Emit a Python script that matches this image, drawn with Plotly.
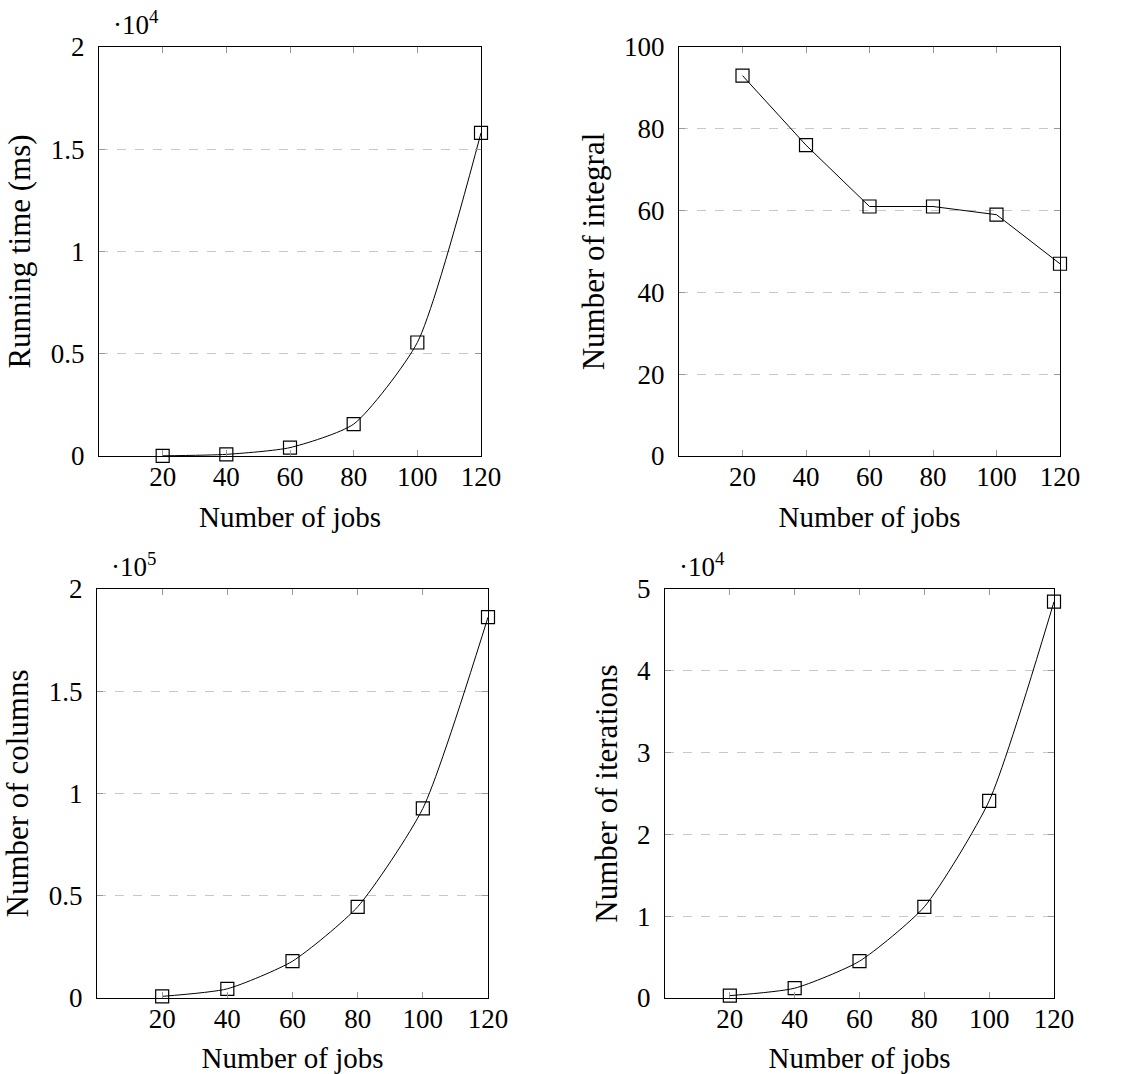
import plotly.graph_objects as go

jobs = [20, 40, 60, 80, 100, 120]
running_time = [10, 80, 410, 1560, 5550, 15800]
num_integral = [93, 76, 61, 61, 59, 47]
num_columns = [800, 4500, 18000, 44600, 92700, 186200]
num_iterations = [290, 1200, 4500, 11150, 24100, 48450]

x_ticks = [20, 40, 60, 80, 100, 120]
x_ticktext = ["20", "40", "60", "80", "100", "120"]

p1_tickvals = [0, 5000, 10000, 15000, 20000]
p1_ticktext = ["0", "0.5", "1", "1.5", "2"]
p2_tickvals = [0, 20, 40, 60, 80, 100]
p2_ticktext = ["0", "20", "40", "60", "80", "100"]
p3_tickvals = [0, 50000, 100000, 150000, 200000]
p3_ticktext = ["0", "0.5", "1", "1.5", "2"]
p4_tickvals = [0, 10000, 20000, 30000, 40000, 50000]
p4_ticktext = ["0", "1", "2", "3", "4", "5"]

W, H = 1123, 1074
FONT = "Liberation Serif"

panels = [
    dict(y=running_time, title="Running time (ms)", tv=p1_tickvals, tt=p1_ticktext,
         yr=[0, 20000], px=(99, 481), py=(47, 456), shape="spline", exp="·10<sup>4</sup>"),
    dict(y=num_integral, title="Number of integral", tv=p2_tickvals, tt=p2_ticktext,
         yr=[0, 100], px=(679, 1060), py=(47, 456), shape="linear", exp=None),
    dict(y=num_columns, title="Number of columns", tv=p3_tickvals, tt=p3_ticktext,
         yr=[0, 200000], px=(97, 488), py=(589, 998), shape="spline", exp="·10<sup>5</sup>"),
    dict(y=num_iterations, title="Number of iterations", tv=p4_tickvals, tt=p4_ticktext,
         yr=[0, 50000], px=(665, 1054), py=(589, 998), shape="spline", exp="·10<sup>4</sup>"),
]

fig = go.Figure()
layout = dict(
    width=W, height=H, margin=dict(l=0, r=0, t=0, b=0, autoexpand=False),
    paper_bgcolor="white", plot_bgcolor="white", showlegend=False,
    font=dict(family=FONT, size=27, color="black"),
)
annotations = []
for i, p in enumerate(panels, start=1):
    sfx = "" if i == 1 else str(i)
    fig.add_trace(go.Scatter(
        x=jobs, y=p["y"], mode="lines+markers",
        line=dict(color="black", width=1, shape=p["shape"], smoothing=0.6),
        marker=dict(symbol="square-open", size=13, color="black", line=dict(width=1.2)),
        xaxis="x" + sfx, yaxis="y" + sfx, cliponaxis=False,
    ))
    xd = [p["px"][0] / W, p["px"][1] / W]
    yd = [1 - p["py"][1] / H, 1 - p["py"][0] / H]
    layout["xaxis" + sfx] = dict(
        domain=xd, range=[0, 120], tickvals=x_ticks, ticktext=x_ticktext,
        ticks="inside", ticklen=6, tickcolor="#999", mirror="allticks",
        showline=True, linecolor="black", linewidth=1, showgrid=False, zeroline=False,
        anchor="y" + sfx, ticklabelstandoff=-3,
        title=dict(text="Number of jobs", standoff=15, font=dict(family=FONT, size=29)),
        tickfont=dict(family=FONT, size=27), automargin=False,
    )
    layout["yaxis" + sfx] = dict(
        domain=yd, range=p["yr"], tickvals=p["tv"], ticktext=p["tt"],
        ticks="inside", ticklen=6, tickcolor="#999", mirror="allticks",
        showline=True, linecolor="black", linewidth=1, showgrid=True,
        gridcolor="#c8c8c8", griddash="dash", gridwidth=1, zeroline=False,
        anchor="x" + sfx, ticklabelstandoff=8,
        title=dict(text=p["title"], standoff=10, font=dict(family=FONT, size=31)),
        tickfont=dict(family=FONT, size=27), automargin=False,
    )
    if p["exp"]:
        annotations.append(dict(
            text=p["exp"], xref="paper", yref="paper",
            x=(p["px"][0] + 12) / W, y=1 - (p["py"][0] - 24) / H,
            xanchor="left", yanchor="middle", showarrow=False,
            font=dict(family=FONT, size=27),
        ))
layout["annotations"] = annotations
fig.update_layout(**layout)
fig.write_html("out.html", config={"displayModeBar": False},
               post_script="document.body.style.margin='0';")
